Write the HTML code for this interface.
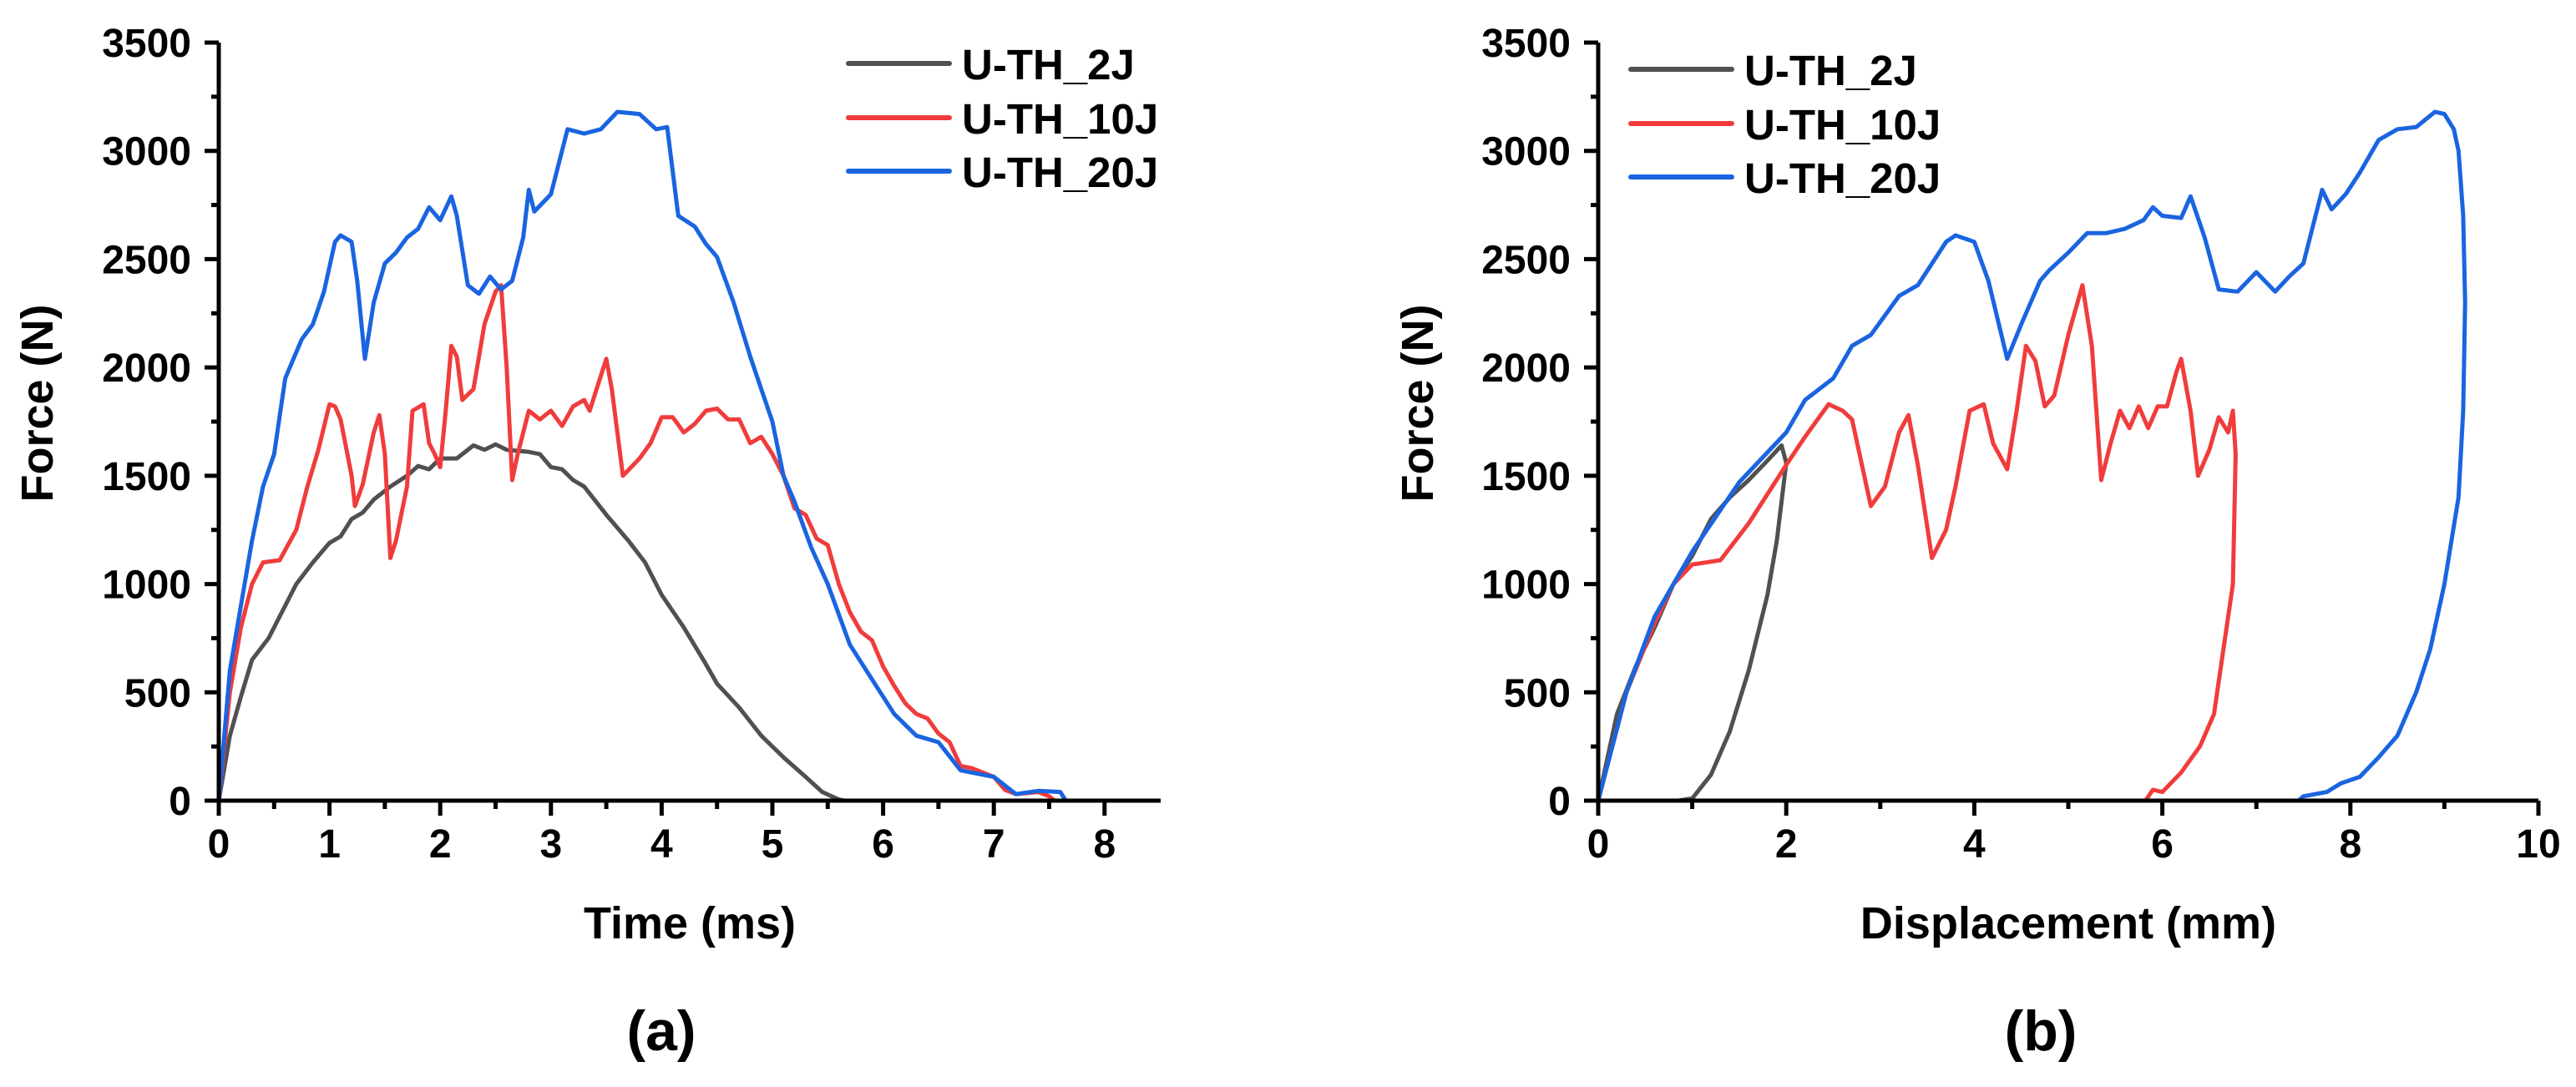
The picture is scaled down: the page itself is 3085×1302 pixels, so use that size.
<!DOCTYPE html>
<html><head><meta charset="utf-8"><style>
html,body{margin:0;padding:0;background:#fff;}
svg{display:block;font-family:"Liberation Sans",Arial,sans-serif;font-weight:bold;}
</style></head><body>
<svg id="fig" width="3085" height="1302" viewBox="0 0 3085 1302" xmlns="http://www.w3.org/2000/svg"></svg>
<script>
// ---- Panel (a): Force vs Time ----
const timeTicks = [0,1,2,3,4,5,6,7,8];
const forceTicks = [0,500,1000,1500,2000,2500,3000,3500];
const dispTicks = [0,2,4,6,8,10];
const seriesNames = ["U-TH_2J","U-TH_10J","U-TH_20J"];
const seriesColors = ["#505050","#f03c3c","#1a64e0"];

const t2J_x = [0,0.1,0.2,0.3,0.45,0.55,0.7,0.85,1.0,1.1,1.2,1.3,1.4,1.55,1.7,1.8,1.9,2.0,2.15,2.3,2.4,2.5,2.6,2.8,2.9,3.0,3.1,3.2,3.3,3.5,3.7,3.85,4.0,4.2,4.4,4.5,4.7,4.9,5.1,5.3,5.45,5.6,5.65];
const t2J_y = [0,300,480,650,750,850,1000,1100,1190,1220,1300,1330,1390,1450,1500,1545,1530,1580,1580,1640,1620,1645,1620,1610,1600,1540,1530,1480,1450,1320,1200,1100,950,800,630,540,430,300,200,110,40,5,0];
const t10J_x = [0,0.1,0.2,0.3,0.4,0.55,0.7,0.8,0.9,1.0,1.05,1.1,1.2,1.23,1.3,1.4,1.45,1.5,1.55,1.6,1.7,1.75,1.85,1.9,1.95,2.0,2.05,2.1,2.15,2.2,2.3,2.4,2.5,2.55,2.6,2.65,2.7,2.8,2.9,3.0,3.1,3.2,3.3,3.35,3.4,3.5,3.55,3.65,3.8,3.9,4.0,4.1,4.2,4.3,4.4,4.5,4.6,4.7,4.8,4.9,5.0,5.1,5.2,5.3,5.4,5.5,5.6,5.7,5.8,5.9,6.0,6.1,6.2,6.3,6.4,6.5,6.6,6.7,6.8,6.9,7.0,7.1,7.2,7.4,7.5,7.55];
const t10J_y = [0,500,800,1000,1100,1110,1250,1450,1620,1830,1820,1760,1500,1360,1460,1700,1780,1600,1120,1200,1450,1800,1830,1650,1600,1540,1800,2100,2050,1850,1900,2200,2350,2380,2000,1480,1600,1800,1760,1800,1730,1820,1850,1800,1880,2040,1900,1500,1580,1650,1770,1770,1700,1740,1800,1810,1760,1760,1650,1680,1600,1500,1350,1320,1210,1180,1000,870,780,740,620,530,450,400,380,310,270,160,150,130,110,50,30,40,20,0];
const t20J_x = [0,0.1,0.2,0.3,0.4,0.5,0.6,0.75,0.85,0.95,1.05,1.1,1.2,1.25,1.32,1.4,1.5,1.6,1.7,1.8,1.9,2.0,2.1,2.15,2.25,2.35,2.45,2.55,2.65,2.75,2.8,2.85,3.0,3.15,3.3,3.45,3.6,3.8,3.95,4.05,4.15,4.3,4.4,4.5,4.65,4.8,4.9,5.0,5.1,5.2,5.35,5.5,5.7,5.9,6.1,6.3,6.5,6.7,6.9,7.0,7.2,7.4,7.6,7.65];
const t20J_y = [0,600,900,1200,1450,1600,1950,2130,2200,2350,2580,2610,2580,2400,2040,2300,2480,2530,2600,2640,2740,2680,2790,2700,2380,2340,2420,2360,2400,2600,2820,2720,2800,3100,3080,3100,3180,3170,3100,3110,2700,2650,2570,2510,2300,2050,1900,1750,1500,1380,1170,1000,720,560,400,300,270,140,120,110,30,45,40,0];

// ---- Panel (b): Force vs Displacement ----
const d2J_x = [0,0.2,0.4,0.6,0.8,1.0,1.2,1.4,1.6,1.8,1.95,2.0,1.9,1.8,1.6,1.4,1.2,1.0,0.85];
const d2J_y = [0,400,620,800,1000,1130,1300,1400,1480,1570,1640,1560,1200,950,600,320,120,10,0];
const d10J_x = [0,0.3,0.6,0.8,1.0,1.3,1.6,2.0,2.2,2.45,2.6,2.7,2.9,3.05,3.2,3.3,3.4,3.55,3.7,3.8,3.95,4.1,4.2,4.35,4.45,4.55,4.65,4.75,4.85,5.0,5.15,5.25,5.35,5.45,5.55,5.65,5.75,5.85,5.95,6.05,6.15,6.2,6.3,6.38,6.5,6.6,6.7,6.75,6.78,6.75,6.65,6.55,6.4,6.2,6.0,5.9,5.82];
const d10J_y = [0,500,820,1000,1090,1110,1280,1550,1680,1830,1800,1760,1360,1450,1700,1780,1550,1120,1250,1450,1800,1830,1650,1530,1800,2100,2030,1820,1870,2150,2380,2100,1480,1650,1800,1720,1820,1720,1820,1820,1980,2040,1800,1500,1620,1770,1700,1800,1600,1000,700,400,250,130,40,50,0];
const d20J_x = [0,0.3,0.6,1.0,1.5,2.0,2.2,2.5,2.7,2.9,3.2,3.4,3.7,3.8,4.0,4.15,4.35,4.5,4.7,4.8,5.0,5.2,5.4,5.6,5.8,5.9,6.0,6.2,6.3,6.45,6.6,6.8,7.0,7.2,7.35,7.5,7.7,7.8,7.95,8.1,8.3,8.5,8.7,8.9,9.0,9.1,9.15,9.2,9.22,9.2,9.15,9.0,8.85,8.7,8.5,8.3,8.1,7.9,7.75,7.5,7.45];
const d20J_y = [0,500,850,1150,1470,1700,1850,1950,2100,2150,2330,2380,2580,2610,2580,2400,2040,2200,2400,2450,2530,2620,2620,2640,2680,2740,2700,2690,2790,2600,2360,2350,2440,2350,2420,2480,2820,2730,2800,2900,3050,3100,3110,3180,3170,3100,3000,2700,2300,1800,1400,1000,700,500,300,200,110,80,40,20,0];

const NS = "http://www.w3.org/2000/svg";
const svg = document.getElementById("fig");
function mk(tag, attrs, parent){
  const e = document.createElementNS(NS, tag);
  for (const k in attrs) e.setAttribute(k, attrs[k]);
  (parent||svg).appendChild(e);
  return e;
}

function panel(cfg){
  const g = mk("g", {});
  
  
  const x0 = cfg.x0, y0 = 959, yTop = 51;
  const sx = v => x0 + (v - 0) * cfg.pxPerX;
  const sy = v => y0 - v * (y0 - yTop) / 3500;
  // series
  cfg.series.forEach((s, i) => {
    let d = "";
    s.x.forEach((xv, j) => { d += (j ? "L" : "M") + sx(xv).toFixed(1) + "," + sy(s.y[j]).toFixed(1); });
    const p = mk("path", {d: d, fill: "none", stroke: seriesColors[i], "stroke-width": 5, "stroke-linejoin": "round", "stroke-linecap": "round"}, g);
    
    
  });
  // axes
  const ax = mk("path", {d: `M${x0},${yTop}V${y0}H${cfg.xEnd}`, fill: "none", stroke: "#000", "stroke-width": 5}, g);
  
  
  if (cfg.xEndTick) mk("line", {x1: cfg.xEnd, y1: y0, x2: cfg.xEnd, y2: y0 + 18, stroke: "#000", "stroke-width": 5}, g);
  // y ticks
  forceTicks.forEach((v, i) => {
    const y = sy(v);
    mk("line", {x1: x0 - 17, y1: y, x2: x0, y2: y, stroke: "#000", "stroke-width": 5}, g);
    if (i < forceTicks.length - 1) {
      const ym = sy(v + 250);
      mk("line", {x1: x0 - 9, y1: ym, x2: x0, y2: ym, stroke: "#000", "stroke-width": 5}, g);
    }
    const t = mk("text", {x: x0 - 33, y: y + 17, "text-anchor": "end", "font-size": 48}, g);
    t.textContent = v;
    
    
  });
  // x ticks
  const step = cfg.ticks[1] - cfg.ticks[0];
  cfg.ticks.forEach((v) => {
    const x = sx(v);
    mk("line", {x1: x, y1: y0, x2: x, y2: y0 + 18, stroke: "#000", "stroke-width": 5}, g);
    const xm = sx(v + step / 2);
    if (xm < cfg.xEnd - 2) mk("line", {x1: xm, y1: y0, x2: xm, y2: y0 + 10, stroke: "#000", "stroke-width": 5}, g);
    const t = mk("text", {x: x, y: 1027, "text-anchor": "middle", "font-size": 48}, g);
    t.textContent = v;
    
    
  });
  // titles
  const xt = mk("text", {x: cfg.xTitleX, y: 1124, "text-anchor": "middle", "font-size": 54}, g);
  xt.textContent = cfg.xTitle;
  
  
  const yt = mk("text", {x: 0, y: 0, "text-anchor": "middle", "font-size": 54, transform: `translate(${cfg.yTitleX + 19},483) rotate(-90)`}, g);
  yt.textContent = "Force (N)";
  
  
  const pl = mk("text", {x: cfg.labelX, y: 1258, "text-anchor": "middle", "font-size": 68}, g);
  pl.textContent = cfg.label;
  
  
  // legend
  cfg.legendY.forEach((ly, i) => {
    const le = mk("g", {}, g);
    
    
    mk("line", {x1: cfg.legendX, y1: ly, x2: cfg.legendX + 121, y2: ly, stroke: seriesColors[i], "stroke-width": 6, "stroke-linecap": "round"}, le);
    const t = mk("text", {x: cfg.legendX + 136, y: ly + 19, "font-size": 51}, le);
    t.textContent = seriesNames[i];
  });
}

panel({name: "panel-a-force-time", prefix: "a", x0: 262, pxPerX: 132.6, xEnd: 1390, xEndTick: false,
  ticks: timeTicks, xTitle: "Time (ms)", xTitleX: 826, yTitleX: 44, label: "(a)", labelX: 792,
  legendX: 1016, legendY: [76, 141, 205],
  series: [{x: t2J_x, y: t2J_y}, {x: t10J_x, y: t10J_y}, {x: t20J_x, y: t20J_y}]});
panel({name: "panel-b-force-displacement", prefix: "b", x0: 1914, pxPerX: 112.6, xEnd: 3040, xEndTick: true,
  ticks: dispTicks, xTitle: "Displacement (mm)", xTitleX: 2477, yTitleX: 1697, label: "(b)", labelX: 2444,
  legendX: 1953, legendY: [83, 148, 212],
  series: [{x: d2J_x, y: d2J_y}, {x: d10J_x, y: d10J_y}, {x: d20J_x, y: d20J_y}]});
</script>
</body></html>
